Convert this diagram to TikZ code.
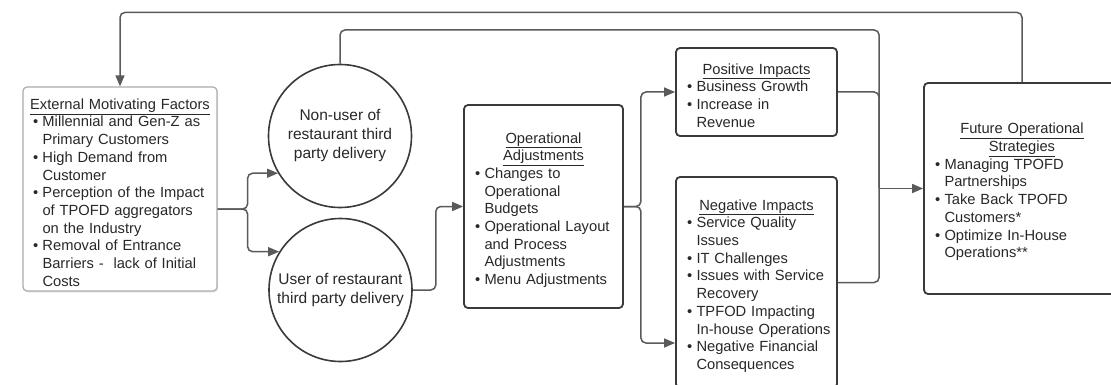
\documentclass[tikz,border=0pt]{standalone}
\usepackage{fontspec}
\setmainfont{Liberation Sans}
\usetikzlibrary{arrows.meta,shadows,calc}
\definecolor{linegray}{HTML}{5A5A5A}
\definecolor{boxline}{HTML}{3A3A3A}
\definecolor{txt}{HTML}{282828}
% bullet item with hanging indent; lines are broken by hand with \newline
\newcommand\bl[1]{\par\hangindent=9.5pt\hangafter=1\noindent\hbox to 9.5pt{\textbullet\hfil}#1\par}
% centred, underlined heading line
\newcommand\ttl[1]{\par\noindent\makebox[\linewidth][c]{\underline{#1}}\par}
\tikzset{
  box/.style={draw=boxline, line width=1.8pt, rounded corners=4pt, align=left,
    inner xsep=11pt, inner ysep=0pt, text=txt, fill=white,
    font=\fontsize{14.7}{17.7}\selectfont},
  ebox/.style={box, draw=gray!65, line width=1.2pt, inner xsep=10pt,
    drop shadow={opacity=0.18, shadow xshift=1.2pt, shadow yshift=-1.5pt}},
  circ/.style={circle, draw=boxline, line width=1.6pt, minimum size=143pt,
    inner sep=0pt, align=center, text=txt, fill=white,
    font=\fontsize{15.5}{19}\selectfont},
  conn/.style={draw=linegray, line width=1.5pt, rounded corners=5pt},
  arr/.style={conn, -{Triangle[length=11pt,width=9pt]}},
}
\begin{document}
\begin{tikzpicture}[x=1pt,y=-1pt]
\useasboundingbox (0,0) rectangle (1111,385);
\fill[white] (0,0) rectangle (1111,385);
\clip (0,0) rectangle (1111,385);

\node[ebox, text width=174pt, minimum height=204pt] (ext) at (120,189) {%
  \ttl{External Motivating Factors}%
  \bl{\mbox{Millennial and Gen-Z as}\newline\mbox{Primary Customers}}%
  \bl{\mbox{High Demand from}\newline\mbox{Customer}}%
  \bl{\mbox{Perception of the Impact}\newline\mbox{of TPOFD aggregators}\newline\mbox{on the Industry}}%
  \bl{\mbox{Removal of Entrance}\newline\mbox{Barriers -\ \ lack of Initial}\newline\mbox{Costs}}};

\node[circ] (nonuser) at (340,136) {Non-user of\\restaurant third\\party delivery};
\node[circ] (user) at (340.5,290) {User of restaurant\\third party delivery};

\node[box, text width=137pt, minimum height=203pt] (op) at (543.5,206.5) {%
  \ttl{Operational}\ttl{Adjustments}%
  \bl{\mbox{Changes to}\newline\mbox{Operational}\newline\mbox{Budgets}}%
  \bl{\mbox{Operational Layout}\newline\mbox{and Process}\newline\mbox{Adjustments}}%
  \bl{\mbox{Menu Adjustments}}};

\node[box, text width=139pt, minimum height=88pt] (pos) at (756.5,92) {%
  \ttl{Positive Impacts}%
  \bl{\mbox{Business Growth}}%
  \bl{\mbox{Increase in}\newline\mbox{Revenue}}};

\node[box, text width=139pt, minimum height=211pt] (neg) at (756.5,282.5) {%
  \ttl{Negative Impacts}%
  \bl{\mbox{Service Quality}\newline\mbox{Issues}}%
  \bl{\mbox{IT Challenges}}%
  \bl{\mbox{Issues with Service}\newline\mbox{Recovery}}%
  \bl{\mbox{TPFOD Impacting}\newline\mbox{In-house Operations}}%
  \bl{\mbox{Negative Financial}\newline\mbox{Consequences}}};

\node[box, text width=174pt, minimum height=211pt] (future) at (1022,188.5) {%
  \ttl{Future Operational}\ttl{Strategies}%
  \bl{\mbox{Managing TPOFD}\newline\mbox{Partnerships}}%
  \bl{\mbox{Take Back TPOFD}\newline\mbox{Customers*}}%
  \bl{\mbox{Optimize In-House}\newline\mbox{Operations**}}};

% feedback loop from future strategies back to the external factors
\draw[arr] (future.north) |- ($(ext.north)+(0,-74)$) -- (ext.north);

% external factors split to both delivery groups
\coordinate (es) at ($(ext.east)+(0,20)$);
\draw[arr] (es) -- ++(30,0) |- (nonuser.211);
\draw[arr] (es) -- ++(30,0) |- (user.148);

% users go on to operational adjustments
\draw[arr] (user.east) -- ++(23,0) |- (op.west);

% adjustments lead to positive and negative impacts
\draw[arr] (op.east) -- ++(17,0) |- (pos.west);
\draw[arr] (op.east) -- ++(17,0) |- ([yshift=-60.5pt]neg.west);

% impacts and non-users merge into future strategies
\coordinate (j) at ($(future.west)+(-44,0)$);
\draw[conn] (nonuser.north) |- ($(j)+(0,-158.5)$) -- (j);
\draw[conn] (pos.east) -| (j);
\draw[conn] (neg.east) -| (j);
\draw[arr] (j) -- (future.west);
\end{tikzpicture}
\end{document}
